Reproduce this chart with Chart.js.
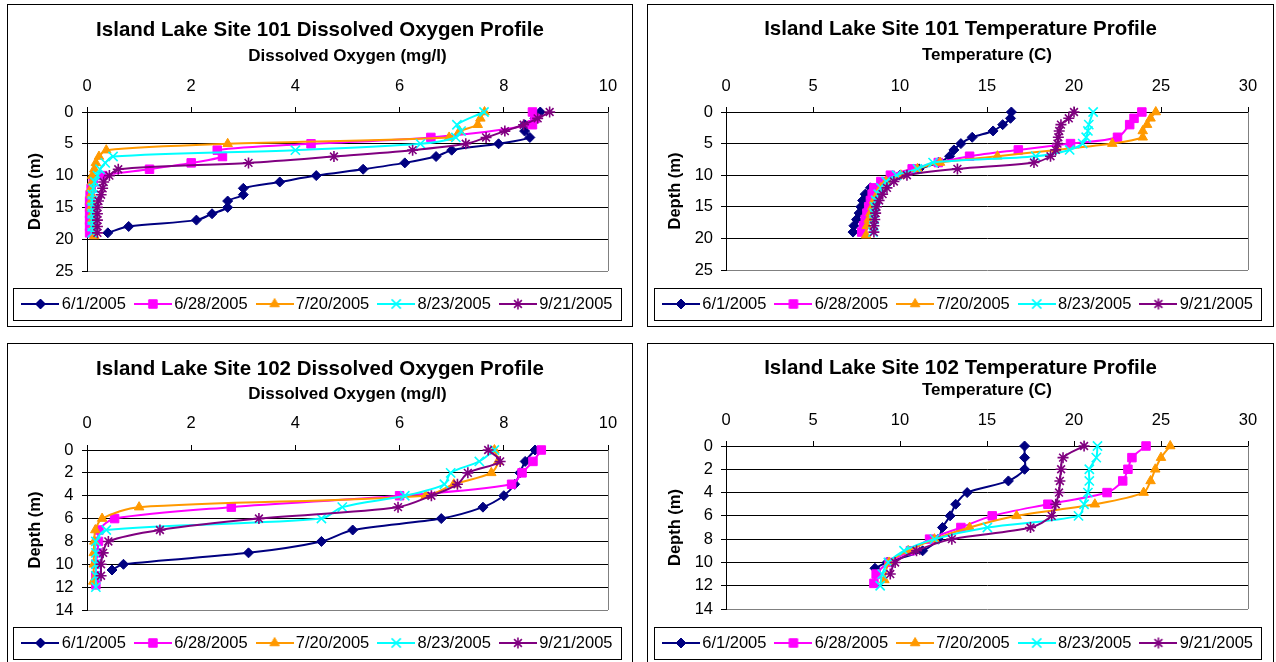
<!DOCTYPE html>
<html>
<head>
<meta charset="utf-8">
<script src="https://cdn.jsdelivr.net/npm/chart.js@4.4.0/dist/chart.umd.min.js"></script>
<style>
  body { margin: 0; background: #fff; width: 1276px; height: 662px; overflow: hidden; position: relative; }
  .panel { position: absolute; box-sizing: border-box; border: 1px solid #000; background: #fff; }
  .panel canvas { position: absolute; left: 0; top: 0; }
</style>
</head>
<body>
<div class="panel" style="left:7px;top:4px;width:626px;height:323px"><canvas id="do101" width="624" height="320"></canvas></div>
<div class="panel" style="left:647px;top:4px;width:627px;height:323px"><canvas id="t101" width="625" height="320"></canvas></div>
<div class="panel" style="left:7px;top:343px;width:626px;height:330px"><canvas id="do102" width="624" height="320"></canvas></div>
<div class="panel" style="left:647px;top:343px;width:627px;height:330px"><canvas id="t102" width="625" height="320"></canvas></div>
<script>
// ---- data ----
const seriesLabels = ['6/1/2005', '6/28/2005', '7/20/2005', '8/23/2005', '9/21/2005'];

// Site 101 sampling depths (m)
const depth101Jun01 = [0, 1, 2, 3, 4, 5, 6, 7, 8, 9, 10, 11, 12, 13, 14, 15, 16, 17, 18, 19];
const depth101Jun28 = [0, 1, 2, 4, 5, 6, 7, 8, 9, 10, 11, 12, 13, 14, 15, 16, 17, 18, 19];
const depth101Jul20 = [0, 1, 2, 3, 4, 5, 6, 7, 8, 9, 10, 11, 12, 13, 14, 15, 16, 17, 18, 19.5];
const depth101Aug23 = [0, 2, 3, 4, 5, 6, 7, 8, 9, 10, 11, 12, 13, 14, 15, 16, 17, 18, 19];
const depth101Sep21 = [0, 1, 2, 3, 4, 5, 6, 7, 8, 9, 10, 11, 12, 13, 14, 15, 16, 17, 18, 19];

// Site 101 dissolved oxygen (mg/l)
const do101Jun01 = [8.7, 8.6, 8.4, 8.4, 8.5, 7.9, 7.0, 6.7, 6.1, 5.3, 4.4, 3.7, 3.0, 3.0, 2.7, 2.7, 2.4, 2.1, 0.8, 0.4];
const do101Jun28 = [8.55, 8.6, 8.55, 6.6, 4.3, 2.5, 2.6, 2.0, 1.2, 0.3, 0.12, 0.08, 0.06, 0.05, 0.05, 0.05, 0.05, 0.05, 0.05];
const do101Jul20 = [7.63, 7.55, 7.5, 7.15, 6.95, 2.7, 0.37, 0.23, 0.17, 0.14, 0.1, 0.1, 0.08, 0.08, 0.08, 0.08, 0.1, 0.1, 0.12, 0.14];
const do101Aug23 = [7.62, 7.1, 7.18, 7.08, 6.4, 4.0, 0.5, 0.35, 0.25, 0.2, 0.15, 0.12, 0.1, 0.1, 0.1, 0.1, 0.1, 0.1, 0.1];
const do101Sep21 = [8.88, 8.65, 8.38, 8.02, 7.66, 7.27, 6.25, 4.74, 3.1, 0.6, 0.43, 0.32, 0.3, 0.27, 0.22, 0.2, 0.2, 0.2, 0.2, 0.2];

// Site 101 temperature (C)
const t101Jun01 = [16.4, 16.35, 15.9, 15.35, 14.15, 13.5, 13.1, 12.85, 12.2, 11.1, 10.0, 9.2, 8.3, 8.0, 7.85, 7.75, 7.65, 7.5, 7.35, 7.3];
const t101Jun28 = [23.9, 23.45, 23.2, 22.5, 19.8, 16.8, 14.0, 12.2, 10.7, 9.45, 8.9, 8.5, 8.4, 8.3, 8.2, 8.1, 8.0, 7.9, 7.8];
const t101Jul20 = [24.7, 24.4, 24.2, 23.95, 23.95, 22.2, 19.0, 15.6, 12.3, 11.0, 10.05, 9.2, 8.9, 8.7, 8.5, 8.4, 8.3, 8.2, 8.1, 8.05];
const t101Aug23 = [21.1, 20.85, 20.8, 20.7, 20.5, 19.75, 17.8, 11.9, 11.0, 9.8, 9.2, 8.9, 8.75, 8.6, 8.55, 8.5, 8.5, 8.5, 8.45];
const t101Sep21 = [20.0, 19.7, 19.25, 19.15, 19.1, 19.05, 18.95, 18.65, 17.7, 13.3, 10.4, 9.65, 9.25, 9.0, 8.8, 8.65, 8.6, 8.55, 8.5, 8.5];

// Site 102 sampling depths (m)
const depth102Jun01 = [0, 1, 2, 3, 4, 5, 6, 7, 8, 9, 10, 10.5];
const depth102Jun28 = [0, 1, 2, 3, 4, 5, 6, 7, 8, 9, 10, 11, 11.8];
const depth102Jul20 = [0, 1, 2, 3, 4, 5, 6, 7, 8, 9, 10, 11.5];
const depth102Aug23 = [0, 1, 2, 3, 4, 5, 6, 7, 8, 9, 10, 11, 12];
const depth102Sep21 = [0, 1, 2, 3, 4, 5, 6, 7, 8, 9, 10, 11];

// Site 102 dissolved oxygen (mg/l)
const do102Jun01 = [8.6, 8.41, 8.31, 8.21, 8.0, 7.6, 6.8, 5.1, 4.5, 3.1, 0.7, 0.48];
const do102Jun28 = [8.72, 8.56, 8.35, 8.15, 6.0, 2.77, 0.53, 0.23, 0.22, 0.2, 0.17, 0.17, 0.17];
const do102Jul20 = [7.82, 7.89, 7.76, 7.04, 6.5, 1.0, 0.29, 0.16, 0.14, 0.13, 0.13, 0.12];
const do102Aug23 = [7.82, 7.53, 6.98, 6.86, 6.1, 4.9, 4.5, 0.37, 0.17, 0.17, 0.17, 0.17, 0.17];
const do102Sep21 = [7.7, 7.93, 7.31, 7.11, 6.61, 5.97, 3.3, 1.4, 0.41, 0.31, 0.27, 0.27];

// Site 102 temperature (C)
const t102Jun01 = [17.16, 17.16, 17.16, 16.23, 13.86, 13.2, 12.88, 12.44, 12.2, 11.3, 9.26, 8.56];
const t102Jun28 = [24.14, 23.33, 23.1, 22.8, 21.9, 18.5, 15.3, 13.5, 11.7, 10.6, 9.37, 8.63, 8.5];
const t102Jul20 = [25.53, 25.0, 24.67, 24.4, 24.0, 21.2, 16.7, 14.0, 11.98, 10.47, 9.37, 9.1];
const t102Aug23 = [21.35, 21.28, 20.88, 20.88, 20.8, 20.58, 20.26, 15.02, 11.98, 10.23, 9.33, 8.98, 8.86];
const t102Sep21 = [20.58, 19.37, 19.26, 19.19, 19.14, 18.95, 18.72, 17.5, 12.98, 10.95, 9.72, 9.44];

// ---- styles ----
Chart.defaults.font.family = "'Liberation Sans', Arial, sans-serif";
Chart.defaults.color = '#000';

const seriesStyles = [
	{ color: '#000080', pointStyle: 'rectRot', radius: 5, filled: true },
	{ color: '#FF00FF', pointStyle: 'rect', radius: 6, filled: true },
	{ color: '#FF9900', pointStyle: 'triangle', radius: 5.5, filled: true },
	{ color: '#00FFFF', pointStyle: 'crossRot', radius: 6.5, filled: false },
	{ color: '#800080', pointStyle: 'star', radius: 5.5, filled: false },
];

// legend swatch: short line with the marker in the middle
function legendIcon(st) {
	const c = document.createElement('canvas');
	c.width = 38;
	c.height = 16;
	const g = c.getContext('2d');
	g.strokeStyle = st.color;
	g.fillStyle = st.color;
	g.lineWidth = 2;
	g.beginPath();
	g.moveTo(0, 8);
	g.lineTo(38, 8);
	g.stroke();
	g.lineWidth = st.filled ? 1 : 1.6;
	Chart.helpers.drawPoint(g, { pointStyle: st.pointStyle, radius: st.radius, rotation: 0, borderWidth: g.lineWidth }, 19, 8);
	return c;
}
const legendIcons = seriesStyles.map(legendIcon);

// grey plot border on the right + box round the legend
const plotFrame = {
	id: 'plotFrame',
	afterDraw(chart) {
		const { ctx, chartArea: a, legend } = chart;
		ctx.save();
		ctx.lineWidth = 1;
		ctx.strokeStyle = '#808080';
		const rx = Math.round(a.right) + 0.5;
		ctx.beginPath();
		ctx.moveTo(rx, a.top);
		ctx.lineTo(rx, a.bottom);
		ctx.stroke();

		const hb = legend.legendHitBoxes;
		const first = hb[0];
		const last = hb[hb.length - 1];
		const cy = first.top + first.height / 2;
		const l = Math.round(first.left - 14) + 0.5;
		const r = Math.round(last.left + last.width + 8) + 0.5;
		const t = Math.round(cy - 16) + 0.5;
		const b = Math.round(cy + 16) + 0.5;
		ctx.strokeStyle = '#000';
		ctx.strokeRect(l, t, r - l, b - t);
		ctx.restore();
	},
};

function buildPanel(id, cfg) {
	const canvas = document.getElementById(id);
	const W = canvas.width;
	const H = canvas.height;
	const L = cfg.layout;

	const datasets = seriesLabels.map((label, i) => {
		const st = seriesStyles[i];
		const depths = cfg.depths[i];
		return {
			label,
			data: cfg.values[i].map((v, k) => ({ x: v, y: depths[k] })),
			showLine: true,
			borderColor: st.color,
			backgroundColor: st.color,
			borderWidth: 2,
			tension: 0.3,
			pointStyle: st.pointStyle,
			pointRadius: st.radius,
			pointBorderWidth: st.filled ? 1 : 1.6,
			pointBackgroundColor: st.color,
			pointBorderColor: st.color,
			clip: false,
			order: seriesLabels.length - i,
		};
	});

	const titleLine = 20.5 * 1.2;
	const legendTitleH = L.legendY - 22.25 - L.areaBottom;

	return new Chart(canvas, {
		type: 'scatter',
		data: { datasets },
		options: {
			responsive: false,
			animation: false,
			events: [],
			layout: { padding: { top: 0, left: 0, right: 0, bottom: H - L.legendY - 18.25 } },
			scales: {
				x: {
					type: 'linear',
					position: 'top',
					min: 0,
					max: cfg.xMax,
					ticks: {
						stepSize: cfg.xStep,
						maxRotation: 0,
						padding: L.areaTop - L.tickY - 5 - 9.9,
						font: { size: 16.5 },
						color: '#000',
					},
					grid: { drawOnChartArea: false, color: '#000', tickLength: 5 },
					border: { color: '#000' },
					title: {
						display: true,
						text: cfg.xTitle,
						color: '#000',
						font: { size: 17, weight: 'bold' },
						padding: { top: L.axisTitleY - L.titleY - titleLine / 2 - 10.2, bottom: 0 },
					},
					afterFit: (s) => {
						s.height = L.areaTop - L.titleY - titleLine / 2;
					},
				},
				y: {
					type: 'linear',
					position: 'left',
					reverse: true,
					min: 0,
					max: cfg.yMax,
					ticks: {
						stepSize: cfg.yStep,
						padding: L.areaLeft - 5 - L.yLabelRight,
						font: { size: 16.5 },
						color: '#000',
					},
					grid: {
						color: (c) => (c.tick && c.tick.value === cfg.yMax ? '#808080' : '#000'),
						tickColor: '#000',
						tickLength: 5,
					},
					border: { color: '#000' },
					title: {
						display: true,
						text: 'Depth (m)',
						color: '#000',
						font: { size: 16.5, weight: 'bold' },
						padding: { top: L.depthTitleX - 9.9, bottom: 0 },
					},
					afterFit: (s) => {
						s.width = L.areaLeft;
					},
				},
				yRight: {
					type: 'linear',
					position: 'right',
					grid: { display: false },
					border: { display: false },
					ticks: { display: false },
					afterFit: (s) => {
						s.width = W - L.areaRight;
					},
				},
			},
			plugins: {
				title: {
					display: true,
					text: cfg.title,
					color: '#000',
					font: { size: 20.5, weight: 'bold' },
					padding: { top: L.titleY - titleLine / 2, bottom: 0 },
				},
				legend: {
					position: 'bottom',
					align: 'center',
					title: { display: true, text: '', font: { size: 5 }, padding: { top: 0, bottom: legendTitleH - 6 } },
					labels: {
						usePointStyle: true,
						pointStyleWidth: 26,
						padding: 14,
						color: '#000',
						font: { size: 16.5 },
						generateLabels: (chart) =>
							chart.data.datasets.map((ds, i) => ({
								text: ds.label,
								pointStyle: legendIcons[i],
								fillStyle: ds.borderColor,
								strokeStyle: ds.borderColor,
								lineWidth: 0,
								hidden: false,
								datasetIndex: i,
								fontColor: '#000',
							})),
					},
				},
				tooltip: { enabled: false },
			},
		},
		plugins: [plotFrame],
	});
}

buildPanel('do101', {
	title: 'Island Lake Site 101 Dissolved Oxygen Profile',
	xTitle: 'Dissolved Oxygen (mg/l)',
	xMax: 10, xStep: 2, yMax: 25, yStep: 5,
	depths: [depth101Jun01, depth101Jun28, depth101Jul20, depth101Aug23, depth101Sep21],
	values: [do101Jun01, do101Jun28, do101Jul20, do101Aug23, do101Sep21],
	layout: { titleY: 25, axisTitleY: 51, tickY: 81, areaTop: 107, areaBottom: 266, areaLeft: 79, areaRight: 600, yLabelRight: 65.5, depthTitleX: 27, legendY: 299 },
});

buildPanel('t101', {
	title: 'Island Lake Site 101 Temperature Profile',
	xTitle: 'Temperature (C)',
	xMax: 30, xStep: 5, yMax: 25, yStep: 5,
	depths: [depth101Jun01, depth101Jun28, depth101Jul20, depth101Aug23, depth101Sep21],
	values: [t101Jun01, t101Jun28, t101Jul20, t101Aug23, t101Sep21],
	layout: { titleY: 24, axisTitleY: 50, tickY: 81, areaTop: 107, areaBottom: 265, areaLeft: 78, areaRight: 600, yLabelRight: 65, depthTitleX: 27.5, legendY: 299 },
});

buildPanel('do102', {
	title: 'Island Lake Site 102 Dissolved Oxygen Profile',
	xTitle: 'Dissolved Oxygen (mg/l)',
	xMax: 10, xStep: 2, yMax: 14, yStep: 2,
	depths: [depth102Jun01, depth102Jun28, depth102Jul20, depth102Aug23, depth102Sep21],
	values: [do102Jun01, do102Jun28, do102Jul20, do102Aug23, do102Sep21],
	layout: { titleY: 25, axisTitleY: 50.5, tickY: 79, areaTop: 106, areaBottom: 266, areaLeft: 79, areaRight: 600, yLabelRight: 65.5, depthTitleX: 27, legendY: 299 },
});

buildPanel('t102', {
	title: 'Island Lake Site 102 Temperature Profile',
	xTitle: 'Temperature (C)',
	xMax: 30, xStep: 5, yMax: 14, yStep: 2,
	depths: [depth102Jun01, depth102Jun28, depth102Jul20, depth102Aug23, depth102Sep21],
	values: [t102Jun01, t102Jun28, t102Jul20, t102Aug23, t102Sep21],
	layout: { titleY: 24.5, axisTitleY: 46.5, tickY: 76, areaTop: 102, areaBottom: 265, areaLeft: 78, areaRight: 600, yLabelRight: 65, depthTitleX: 27.5, legendY: 299 },
});
</script>
</body>
</html>
